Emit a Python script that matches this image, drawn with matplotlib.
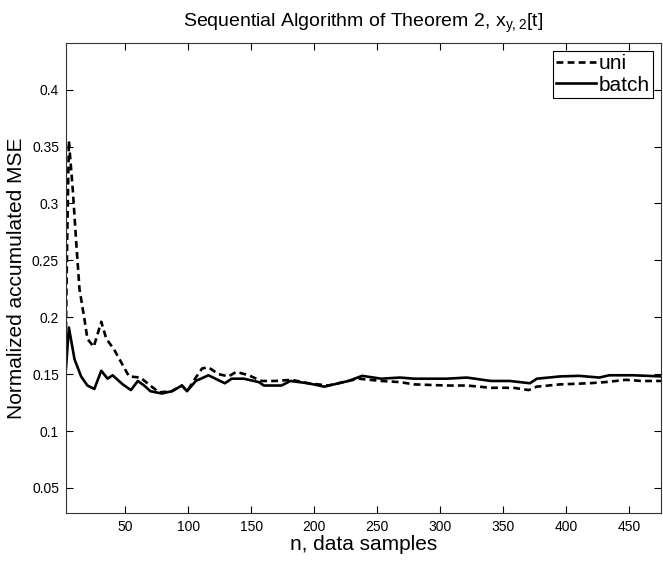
import matplotlib
matplotlib.use('Agg')
import matplotlib.pyplot as plt
import numpy as np

plt.rcParams['font.family'] = ['Liberation Sans', 'DejaVu Sans']

# Curves
n_uni = [3, 4, 5.3, 8.4, 11, 13.7, 17.7, 20, 25, 31, 35, 41, 47, 53, 62, 71, 77,
         87, 95, 99, 106, 111, 116, 124, 132, 138, 148, 158, 169, 182, 195, 211,
         227, 235, 253, 268, 279, 305, 321, 340, 358, 370, 376.5, 395, 418, 431,
         447, 460, 475]
uni = [0.19, 0.27, 0.355, 0.312, 0.268, 0.225, 0.198, 0.181, 0.174, 0.196, 0.181,
       0.172, 0.160, 0.148, 0.147, 0.139, 0.134, 0.135, 0.140, 0.135, 0.147, 0.155,
       0.156, 0.150, 0.148, 0.152, 0.149, 0.144, 0.144, 0.145, 0.142, 0.140,
       0.144, 0.146, 0.144, 0.143, 0.141, 0.140, 0.140, 0.138, 0.138, 0.136,
       0.139, 0.141, 0.142, 0.143, 0.145, 0.144, 0.144]

n_batch = [3, 5.3, 9.8, 15, 20, 25.5, 31, 36, 40, 48, 54.5, 60, 65, 70, 79, 87,
           95, 99, 106, 116, 129, 134.5, 144, 156, 160, 174, 181, 195, 208, 227,
           238, 253, 268, 279, 305, 321, 340, 355, 371, 376.5, 395, 410, 426, 434,
           453, 475]
batch = [0.155, 0.191, 0.163, 0.148, 0.140, 0.137, 0.153, 0.146, 0.149, 0.141,
         0.136, 0.144, 0.140, 0.135, 0.133, 0.135, 0.140, 0.135, 0.144, 0.149,
         0.142, 0.146, 0.146, 0.143, 0.140, 0.140, 0.144, 0.142, 0.139, 0.144,
         0.1485, 0.146, 0.147, 0.146, 0.146, 0.147, 0.144, 0.144, 0.142, 0.146,
         0.148, 0.1485, 0.147, 0.149, 0.149, 0.148]

x_ticks = [50, 100, 150, 200, 250, 300, 350, 400, 450]
y_ticks = [0.05, 0.1, 0.15, 0.2, 0.25, 0.3, 0.35, 0.4]
y_labels = ['0.05', '0.1', '0.15', '0.2', '0.25', '0.3', '0.35', '0.4']

fig = plt.figure(figsize=(6.63, 5.61), dpi=100)
ax = fig.add_axes([0.0995, 0.0856, 0.8975, 0.8378])

ax.plot(n_uni, uni, color='black', lw=1.9, linestyle=(0, (2.6, 1.6)), label='uni')
ax.plot(n_batch, batch, color='black', lw=1.9, label='batch')

ax.set_xlim(3, 475)
ax.set_ylim(0.028, 0.441)
ax.set_xticks(x_ticks)
ax.set_yticks(y_ticks)
ax.set_yticklabels(y_labels)
ax.tick_params(direction='in', length=5, width=0.8, top=True, right=True,
               labelsize=10, pad=5)
for s in ax.spines.values():
    s.set_linewidth(0.8)
    s.set_color('#333333')

ax.set_title(r'Sequential Algorithm of Theorem 2, x$_{\mathregular{y,2}}$[t]',
             fontsize=14, pad=12)
ax.set_xlabel('n, data samples', fontsize=15, labelpad=1)
ax.set_ylabel('Normalized accumulated MSE', fontsize=15, labelpad=4)

leg = ax.legend(loc='upper right', fontsize=15, handlelength=1.95,
                fancybox=False, framealpha=1, edgecolor='black',
                borderaxespad=0.4, borderpad=0.15, labelspacing=0.1,
                handletextpad=0.1)
leg.get_frame().set_linewidth(0.8)

fig.savefig('out.png', dpi=100)
